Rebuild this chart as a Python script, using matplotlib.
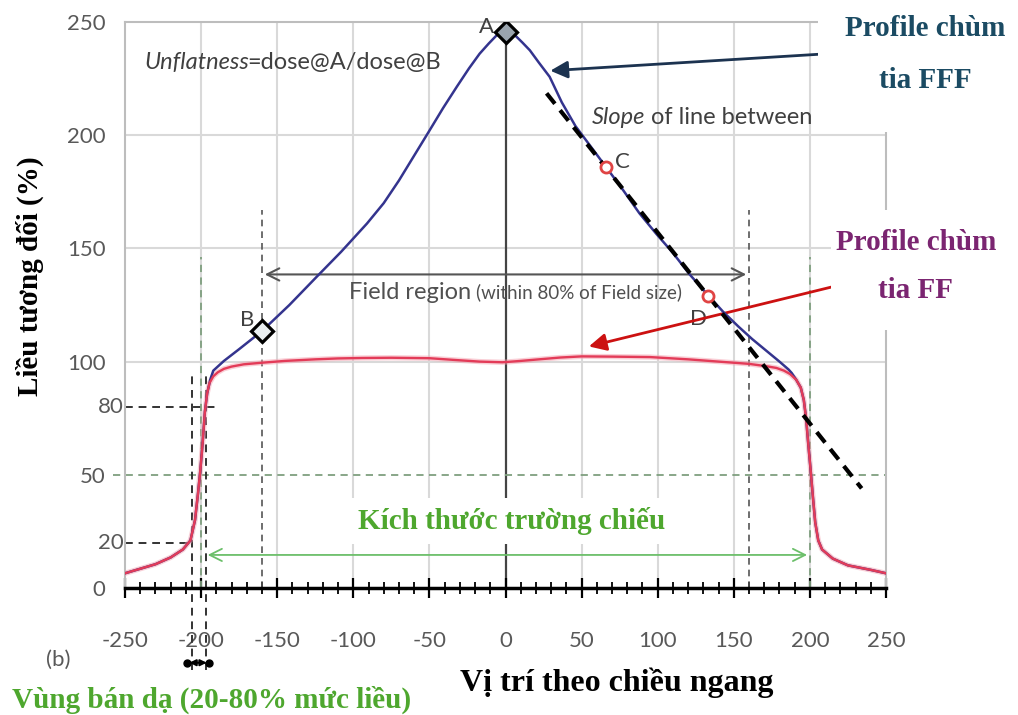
import matplotlib
matplotlib.use("Agg")
import matplotlib.pyplot as plt
from matplotlib.patches import Rectangle
from matplotlib.ticker import MultipleLocator

# ---------------- data ----------------
x_ticks = [-250, -200, -150, -100, -50, 0, 50, 100, 150, 200, 250]
x_tick_labels = ["-250", "-200", "-150", "-100", "-50", "0", "50", "100", "150", "200", "250"]
y_ticks = [0, 50, 100, 150, 200, 250]
y_tick_labels = ["0", "50", "100", "150", "200", "250"]
extra_y_levels = [80, 20]

# FF profile (flattened beam)
ff_x = [-250, -240, -230, -220, -212, -207, -204, -202, -200.5, -199, -197.5, -196, -194.5, -192, -189,
        -185, -180, -172, -160, -145, -125, -110, -94, -75, -50, -35, -17, -2, 10, 22, 36, 50, 70, 95,
        120, 140, 150, 160, 171, 178, 183, 187, 191, 194, 196, 197.5, 199, 200.5, 202, 203.5, 205.5,
        208, 215, 225, 240, 250]
ff_y = [6.5, 8.5, 10.5, 13.5, 17, 21, 30, 42, 52, 64, 78, 86, 90.5, 93.5, 95.3,
        96.8, 97.8, 98.8, 99.5, 100.3, 101, 101.4, 101.6, 101.7, 101.5, 100.8, 100, 99.7, 100.3, 101, 101.8, 102.3, 102.2, 102,
        101, 100, 99.5, 99, 98, 97.2, 96, 94.5, 92, 88.5, 83, 75, 63, 52, 40, 29, 21,
        17, 13, 10, 8, 6.5]

# FFF profile (flattening filter free)
fff_x = [-250, -240, -230, -220, -212, -207, -204, -202, -200.5, -199, -197.5, -196, -194, -192, -185,
         -175, -160, -142, -124, -108, -91, -80, -70, -60, -50, -41, -32, -24, -17, -11, -6, -2, 0,
         2, 6, 11, 16, 22, 29, 37, 46, 56, 66, 77, 88, 99, 110, 121, 133, 143, 153, 162, 171, 180,
         186, 188, 191, 194, 196, 197.5, 199, 200.5, 202, 203.5, 205.5, 208, 215, 225, 240, 250]
fff_y = [6.5, 8.5, 10.5, 13.5, 17, 21, 30, 42, 52, 64, 78, 86, 92, 96, 100.3,
         105.5, 113.5, 125, 137.5, 148.5, 161, 170, 180, 191, 202, 212, 221.4, 229.5, 236, 240.5, 244, 245.8, 246,
         245.8, 244.3, 241, 237.5, 232, 225.8, 214.5, 204, 195, 186, 176, 165.5, 156.5, 148, 138.5, 129.4, 122, 115.5, 110, 105, 100,
         96.5, 95, 92, 88.5, 83, 75, 63, 52, 40, 29, 21, 17, 13, 10, 8, 6.5]

# slope line between C and D
slope_x = [27, 234]
slope_y = [218.5, 44]

# marked points
pt_A = (0, 245.5)
pt_B = (-160, 113.5)
pt_C = (66, 186)
pt_D = (133, 129)

field_half = 160
field_edge = 200
penumbra_x = [-206, -197]

# ---------------- style ----------------
BLUE = "#34348e"
RED = "#e33b58"
GRID = "#d9d9d9"
GRAYTXT = "#595959"
GREEN = "#4ea72e"
GREEN_LINE = "#6cbf6a"
GREEN_DASH = "#7f9f7f"
SERIF = ["Liberation Serif", "DejaVu Serif"]
SANS = ["Lato", "DejaVu Sans"]

plt.rcParams["axes.unicode_minus"] = False

fig = plt.figure(figsize=(10.18, 7.15), dpi=100)
W, H = 1018, 715
ax = fig.add_axes([125 / W, (H - 588) / H, (886 - 125) / W, (588 - 22) / H])
ax.set_xlim(-250, 250)
ax.set_ylim(0, 250)

# grid
for xv in x_ticks:
    if xv not in (0, -250, 250):
        ax.axvline(xv, color=GRID, lw=1.5, zorder=0)
for yv in y_ticks:
    if yv not in (0, 50, 250):
        ax.axhline(yv, color=GRID, lw=1.5, zorder=0)
ax.axvline(0, color="#444444", lw=1.6, zorder=1)

# spines
for s in ["top", "left", "right"]:
    ax.spines[s].set_color("#bdbdbd")
    ax.spines[s].set_linewidth(1.5)
ax.spines["bottom"].set_color("black")
ax.spines["bottom"].set_linewidth(2.5)
ax.spines["bottom"].set_zorder(5)

# ticks
ax.set_xticks(x_ticks)
ax.set_xticklabels(x_tick_labels, fontsize=16, color=GRAYTXT, family=SANS)
ax.xaxis.set_minor_locator(MultipleLocator(10))
ax.tick_params(axis="x", which="major", direction="inout", length=14, width=1.6, color="black", pad=24)
ax.tick_params(axis="x", which="minor", direction="inout", length=9, width=1.3, color="black")
ax.set_yticks(y_ticks)
ax.set_yticklabels(y_tick_labels, fontsize=16, color=GRAYTXT, family=SANS)
ax.tick_params(axis="y", length=0, pad=14)
for lv in extra_y_levels:
    ax.text(-250.5, lv, str(lv), ha="right", va="center", fontsize=16, color=GRAYTXT, family=SANS, clip_on=False)

# helper dashed lines
ax.plot([-250, -188], [80, 80], color="#333333", lw=1.4, ls=(0, (4, 3)), zorder=2)
ax.plot([-250, penumbra_x[0]], [20, 20], color="#333333", lw=1.4, ls=(0, (4, 3)), zorder=2)
ax.plot([-258, 250], [50, 50], color=GREEN_DASH, lw=1.3, ls=(0, (4, 3)), zorder=2, clip_on=False)
for xv in (-field_half, field_half):
    ax.plot([xv, xv], [0, 167], color="#555555", lw=1.2, ls=(0, (4, 3)), zorder=2)
for xv in (-field_edge, field_edge):
    ax.plot([xv, xv], [0, 146], color=GREEN_DASH, lw=1.3, ls=(0, (4, 3)), zorder=2)
for xv, top in zip(penumbra_x, [96, 94]):
    ax.plot([xv, xv], [-36, top], color="#333333", lw=1.4, ls=(0, (4, 3)), zorder=2, clip_on=False)

# curves
ax.plot(fff_x, fff_y, color=BLUE, lw=1.8, zorder=4, solid_joinstyle="round")
ax.plot(ff_x, ff_y, color="#f4a0ae", lw=3.8, alpha=0.5, zorder=3, solid_joinstyle="round")
ax.plot(ff_x, ff_y, color=RED, lw=1.7, zorder=4, solid_joinstyle="round")

# slope line
ax.plot(slope_x, slope_y, color="black", lw=3, dashes=(3.2, 2.0), zorder=5)

# markers
ax.plot(*pt_A, marker="D", ms=11, mfc="#9aa4ae", mec="black", mew=2.3, zorder=6)
ax.plot(*pt_B, marker="D", ms=11, mfc="#e9eef0", mec="black", mew=2.3, zorder=6)
ax.plot(*pt_C, marker="o", ms=8, mfc="white", mec="#e04444", mew=2, zorder=6)
ax.plot(*pt_D, marker="o", ms=8, mfc="white", mec="#e04444", mew=2, zorder=6)
ax.text(-12.5, 248, "A", ha="center", va="center", fontsize=16, color="#404040", family=SANS)
ax.text(-170, 118.5, "B", ha="center", va="center", fontsize=16, color="#404040", family=SANS)
ax.text(77, 188, "C", ha="center", va="center", fontsize=16, color="#404040", family=SANS)
ax.text(127, 119, "D", ha="center", va="center", fontsize=16, color="#404040", family=SANS)

# annotations inside plot
ax.text(-237, 232, "Unflatness", style="italic", ha="left", va="center", fontsize=17, color="#404040", family=SANS)
ax.text(-169.5, 232, "=dose@A/dose@B", ha="left", va="center", fontsize=17, color="#404040", family=SANS)
ax.text(56.5, 208, "Slope", style="italic", ha="left", va="center", fontsize=17, color="#404040", family=SANS)
ax.text(95.5, 208, "of line between (C and D)", ha="left", va="center", fontsize=17, color="#404040",
        family=SANS, clip_on=False)

ax.annotate("", xy=(-field_half, 138.5), xytext=(field_half, 138.5),
            arrowprops=dict(arrowstyle="<->", color="#555555", lw=1.5, mutation_scale=22), zorder=3)
ax.text(-102.5, 130.5, "Field region", ha="left", va="center", fontsize=17, color="#505050", family=SANS)
ax.text(-19.5, 130.5, "(within 80% of Field size)", ha="left", va="center", fontsize=13.5, color="#505050", family=SANS)

ax.annotate("", xy=(-197.5, 14.6), xytext=(200, 14.6),
            arrowprops=dict(arrowstyle="<->", color=GREEN_LINE, lw=1.3, mutation_scale=22), zorder=3)
ax.text(4, 29.5, "Kích thước trường chiếu", ha="center", va="center", fontsize=21, fontweight="bold",
        color=GREEN, family=SERIF, zorder=7,
        bbox=dict(boxstyle="square,pad=0.3", fc="white", ec="none"))

# penumbra arrow below axis
ax.annotate("", xy=(-209.5, -33), xytext=(-194.5, -33), annotation_clip=False,
            arrowprops=dict(arrowstyle="<|-|>", color="black", lw=1.5, mutation_scale=9))
ax.plot([-209.5, -194.5], [-33, -33], "o", color="black", ms=5, clip_on=False)

# arrows to labels
ax.annotate("", xy=(27.6, 228.4), xytext=(229, 236.7), annotation_clip=False,
            arrowprops=dict(arrowstyle="-|>", color="#1c3350", lw=2, mutation_scale=26))
ax.annotate("", xy=(53, 106.4), xytext=(217, 133.4), annotation_clip=False,
            arrowprops=dict(arrowstyle="-|>", color="#cc1111", lw=2, mutation_scale=26))

# white boxes behind right-side labels
fig.patches.append(Rectangle((818 / W, 1 - 132 / H), 200 / W, 132 / H, transform=fig.transFigure,
                             fc="white", ec="none", zorder=10))
fig.patches.append(Rectangle((831 / W, 1 - 330 / H), 187 / W, 120 / H, transform=fig.transFigure,
                             fc="white", ec="none", zorder=10))

fig.text(925 / W, 1 - 28 / H, "Profile chùm", ha="center", va="center", fontsize=21, fontweight="bold",
         color="#1b4b63", family=SERIF, zorder=11)
fig.text(925 / W, 1 - 80 / H, "tia FFF", ha="center", va="center", fontsize=21, fontweight="bold",
         color="#1b4b63", family=SERIF, zorder=11)
fig.text(916 / W, 1 - 242 / H, "Profile chùm", ha="center", va="center", fontsize=21, fontweight="bold",
         color="#7b2571", family=SERIF, zorder=11)
fig.text(916 / W, 1 - 290 / H, "tia FF", ha="center", va="center", fontsize=21, fontweight="bold",
         color="#7b2571", family=SERIF, zorder=11)

# outer labels
fig.text(30 / W, 1 - 276 / H, "Liều tương đối (%)", rotation=90, ha="center", va="center", fontsize=21,
         fontweight="bold", color="black", family=SERIF)
fig.text(617 / W, 1 - 683 / H, "Vị trí theo chiều ngang", ha="center", va="center", fontsize=23,
         fontweight="bold", color="black", family=SERIF)
fig.text(12 / W, 1 - 700 / H, "Vùng bán dạ (20-80% mức liều)", ha="left", va="center", fontsize=21,
         fontweight="bold", color=GREEN, family=SERIF)
fig.text(58 / W, 1 - 660 / H, "(b)", ha="center", va="center", fontsize=16, color=GRAYTXT, family=SANS)

fig.savefig("out.png", dpi=100, facecolor="white")
